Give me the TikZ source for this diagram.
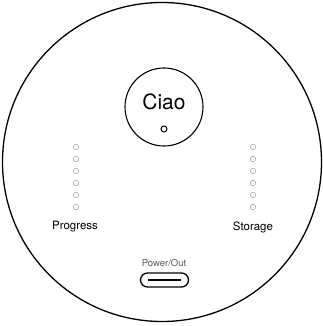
\documentclass[tikz,border=0pt]{standalone}
\usepackage{fontspec}
\setmainfont{TeX Gyre Heros}
\begin{document}
\begin{tikzpicture}[x=1pt,y=-1pt,
  led/.style={circle,draw=gray!70,line width=0.55pt,minimum size=5.5pt,inner sep=0pt},
  lbl/.style={font=\fontsize{11.5}{13}\selectfont,inner sep=0pt}]
\useasboundingbox (0,0) rectangle (323,326);
\node[circle,draw,line width=1.3pt,minimum size=319pt,inner sep=0pt] (body) at (162,162) {};
\node[circle,draw,line width=1.1pt,minimum size=78pt,inner sep=0pt] (btn) at (164,107) {};
\node[inner sep=0pt,font=\fontsize{21}{25}\selectfont] (ciao) at (164,102) {Ciao};
\node[circle,draw,line width=1pt,minimum size=6pt,inner sep=0pt] (dot) at (164,129) {};
\foreach \i in {0,...,5}{
  \node[led] (pl\i) at (76,147+12*\i) {};
  \node[led] (sl\i) at (253,147+12*\i) {};
}
\node[lbl] (prog) at (75,227) {Progress};
\node[lbl] (stor) at (253,227) {Storage};
\node[inner sep=0pt,font=\fontsize{9.5}{11}\selectfont,text=black!65] (pwr) at (164,263) {Power/Out};
\node[draw,line width=1.3pt,rounded corners=7pt,minimum width=48pt,minimum height=14pt,inner sep=0pt] (port) at (164.5,280) {};
\coordinate (pa) at (148,280);
\coordinate (pb) at (181,280);
\draw[line width=1.2pt] (pa) -- (pb);
\end{tikzpicture}
\end{document}
